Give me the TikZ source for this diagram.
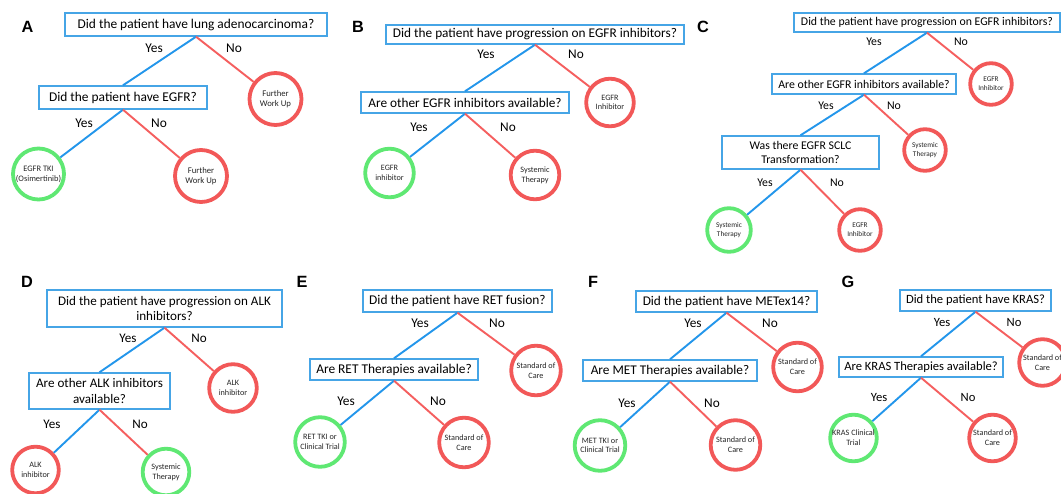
\documentclass[tikz,border=0pt]{standalone}
\usepackage{fontspec}
\setmainfont{Carlito}
\newfontfamily\letterfont{Liberation Sans}
\definecolor{boxblue}{RGB}{70,165,230}
\definecolor{lblue}{RGB}{35,150,235}
\definecolor{lred}{RGB}{245,95,95}
\definecolor{cred}{RGB}{242,88,88}
\definecolor{cgreen}{RGB}{95,232,115}
\begin{document}
\begin{tikzpicture}[x=1pt,y=-1pt,
  qbox/.style={draw=boxblue, line width=1.4pt, fill=white, inner sep=0pt, align=center, text=black},
  leaf/.style={circle, line width=3.8pt, inner sep=0pt, align=center, text=black!85},
  goodleaf/.style={leaf, draw=cgreen},
  badleaf/.style={leaf, draw=cred},
  yesline/.style={draw=lblue, line width=1.9pt},
  noline/.style={draw=lred, line width=1.9pt},
  lab/.style={inner sep=0pt, text=black},
  panel/.style={inner sep=0pt, font=\letterfont\bfseries\fontsize{16.3}{19}\selectfont},
  bigtxt/.style={font=\fontsize{13.3}{15.5}\selectfont},
  smalltxt/.style={font=\fontsize{8.2}{9.7}\selectfont},
  smallc/.style={font=\fontsize{7.3}{8.7}\selectfont}
]
\useasboundingbox (0,0) rectangle (1061,493);
\fill[white] (0,0) rectangle (1061,493);

% ---------- Panel letters
\node[panel] (LA) at (27.5,26.5) {A};
\node[panel] (LB) at (358,27) {B};
\node[panel] (LC) at (703,27) {C};
\node[panel] (LD) at (27,282) {D};
\node[panel] (LE) at (302,282) {E};
\node[panel] (LF) at (593,282) {F};
\node[panel] (LG) at (848,282) {G};

% ---------- Panel A
\begin{scope}[every node/.append style={font=\fontsize{13.4}{15.6}\selectfont}]
\node[qbox, minimum width=262pt, minimum height=23pt] (a1) at (196,24.5) {Did the patient have lung adenocarcinoma?};
\node[qbox, minimum width=168pt, minimum height=23pt] (a2) at (123,97.5) {Did the patient have EGFR?};
\node[lab] (ay1) at (154,48) {Yes};
\node[lab] (an1) at (234,48) {No};
\node[lab] (ay2) at (84,123) {Yes};
\node[lab] (an2) at (159,123) {No};
\end{scope}
\node[badleaf, font=\fontsize{8.7}{10.3}\selectfont, minimum size=52pt] (a3) at (275.5,99) {Further\\Work Up};
\node[goodleaf, font=\fontsize{8.4}{10}\selectfont, minimum size=51pt] (a4) at (38.5,174) {EGFR TKI\\(Osimertinib)};
\node[badleaf, font=\fontsize{8.7}{10.3}\selectfont, minimum size=52pt] (a5) at (201,176) {Further\\Work Up};
\draw[yesline] (a1.south) -- (a2.north);
\draw[noline] (a1.south) -- (a3);
\draw[yesline] (a2.south) -- (a4);
\draw[noline] (a2.south) -- (a5);

% ---------- Panel B
\begin{scope}[every node/.append style={bigtxt}]
\node[qbox, minimum width=298pt, minimum height=19pt] (b1) at (535,34.5) {Did the patient have progression on EGFR inhibitors?};
\node[qbox, minimum width=208pt, minimum height=21pt] (b2) at (465,102.5) {Are other EGFR inhibitors available?};
\node[lab] (by1) at (486,54) {Yes};
\node[lab] (bn1) at (576,54) {No};
\node[lab] (by2) at (419,127) {Yes};
\node[lab] (bn2) at (508,127) {No};
\end{scope}
\node[badleaf, smalltxt, minimum size=47.6pt] (b3) at (610,102.5) {EGFR\\Inhibitor};
\node[goodleaf, smalltxt, minimum size=48.6pt] (b4) at (389.5,173) {EGFR\\inhibitor};
\node[badleaf, smalltxt, minimum size=48.6pt] (b5) at (535,175) {Systemic\\Therapy};
\draw[yesline] (b1.south) -- (b2.north);
\draw[noline] (b1.south) -- (b3);
\draw[yesline] (b2.south) -- (b4);
\draw[noline] (b2.south) -- (b5);

% ---------- Panel C
\begin{scope}[every node/.append style={font=\fontsize{11.8}{13.4}\selectfont}]
\node[qbox, minimum width=266pt, minimum height=19pt] (c1) at (927,22.5) {Did the patient have progression on EGFR inhibitors?};
\node[qbox, minimum width=184pt, minimum height=20pt] (c2) at (864,84) {Are other EGFR inhibitors available?};
\node[qbox, minimum width=157pt, minimum height=33pt] (c3) at (800.5,152.5) {Was there EGFR SCLC\\Transformation?};
\node[lab] (cy1) at (874,42) {Yes};
\node[lab] (cn1) at (961,42) {No};
\node[lab] (cy2) at (826,106) {Yes};
\node[lab] (cn2) at (894,106) {No};
\node[lab] (cy3) at (765,183) {Yes};
\node[lab] (cn3) at (837,183) {No};
\end{scope}
\node[badleaf, smallc, minimum size=41.6pt] (c4) at (991,84) {EGFR\\Inhibitor};
\node[badleaf, smallc, minimum size=41.6pt] (c5) at (925,150) {Systemic\\Therapy};
\node[goodleaf, smallc, minimum size=43.6pt] (c6) at (729,230) {Systemic\\Therapy};
\node[badleaf, smallc, minimum size=41.6pt] (c7) at (860,230) {EGFR\\Inhibitor};
\draw[yesline] (c1.south) -- (c2.north);
\draw[noline] (c1.south) -- (c4);
\draw[yesline] (c2.south) -- (c3.north);
\draw[noline] (c2.south) -- (c5);
\draw[yesline] (c3.south) -- (c6);
\draw[noline] (c3.south) -- (c7);

% ---------- Panel D
\begin{scope}[every node/.append style={font=\fontsize{13.1}{15.4}\selectfont}]
\node[qbox, minimum width=235pt, minimum height=37pt] (d1) at (164.5,308.5) {Did the patient have progression on ALK\\inhibitors?};
\node[qbox, minimum width=141pt, minimum height=36pt] (d2) at (99.5,391) {Are other ALK inhibitors\\available?};
\node[lab] (dy1) at (128,338) {Yes};
\node[lab] (dn1) at (199,338) {No};
\node[lab] (dy2) at (52,424) {Yes};
\node[lab] (dn2) at (140,424) {No};
\end{scope}
\node[badleaf, smalltxt, minimum size=47.6pt] (d3) at (233,388) {ALK\\inhibitor};
\node[badleaf, smalltxt, minimum size=46.6pt] (d4) at (35.5,470) {ALK\\inhibitor};
\node[goodleaf, smalltxt, minimum size=46.6pt] (d5) at (166,472) {Systemic\\Therapy};
\draw[yesline] (d1.south) -- (d2.north);
\draw[noline] (d1.south) -- (d3);
\draw[yesline] (d2.south) -- (d4);
\draw[noline] (d2.south) -- (d5);

% ---------- Panel E
\begin{scope}[every node/.append style={font=\fontsize{13.4}{15.6}\selectfont}]
\node[qbox, minimum width=189pt, minimum height=22pt] (e1) at (457.5,301) {Did the patient have RET fusion?};
\node[qbox, minimum width=168pt, minimum height=21pt] (e2) at (394,369.5) {Are RET Therapies available?};
\node[lab] (ey1) at (420,323) {Yes};
\node[lab] (en1) at (497,323) {No};
\node[lab] (ey2) at (346,401) {Yes};
\node[lab] (en2) at (438,401) {No};
\end{scope}
\node[badleaf, smalltxt, minimum size=49.6pt] (e3) at (536,370.5) {Standard of\\Care};
\node[goodleaf, smalltxt, minimum size=49.6pt] (e4) at (320,442) {RET TKI or\\Clinical Trial};
\node[badleaf, smalltxt, minimum size=49.6pt] (e5) at (464,442.5) {Standard of\\Care};
\draw[yesline] (e1.south) -- (e2.north);
\draw[noline] (e1.south) -- (e3);
\draw[yesline] (e2.south) -- (e4);
\draw[noline] (e2.south) -- (e5);

% ---------- Panel F
\begin{scope}[every node/.append style={bigtxt}]
\node[qbox, minimum width=181pt, minimum height=21pt] (f1) at (726.5,301.5) {Did the patient have METex14?};
\node[qbox, minimum width=174pt, minimum height=21pt] (f2) at (670,370.5) {Are MET Therapies available?};
\node[lab] (fy1) at (693,323) {Yes};
\node[lab] (fn1) at (770,323) {No};
\node[lab] (fy2) at (627,403) {Yes};
\node[lab] (fn2) at (712,403) {No};
\end{scope}
\node[badleaf, smalltxt, minimum size=48.6pt] (f3) at (797.5,367) {Standard of\\Care};
\node[goodleaf, smalltxt, minimum size=50.6pt] (f4) at (600,445.5) {MET TKI or\\Clinical Trial};
\node[badleaf, smalltxt, minimum size=49.6pt] (f5) at (735.5,445) {Standard of\\Care};
\draw[yesline] (f1.south) -- (f2.north);
\draw[noline] (f1.south) -- (f3);
\draw[yesline] (f2.south) -- (f4);
\draw[noline] (f2.south) -- (f5);

% ---------- Panel G
\begin{scope}[every node/.append style={font=\fontsize{12.6}{14.6}\selectfont}]
\node[qbox, minimum width=151pt, minimum height=21pt] (g1) at (975.5,300.5) {Did the patient have KRAS?};
\node[qbox, minimum width=164pt, minimum height=20pt] (g2) at (921,367) {Are KRAS Therapies available?};
\node[lab] (gy1) at (942,322) {Yes};
\node[lab] (gn1) at (1014,322) {No};
\node[lab] (gy2) at (879,397) {Yes};
\node[lab] (gn2) at (968,397) {No};
\end{scope}
\node[badleaf, smalltxt, minimum size=46.6pt] (g3) at (1042.5,362.5) {Standard of\\Care};
\node[goodleaf, smalltxt, minimum size=46.6pt] (g4) at (853.5,438) {KRAS Clinical\\Trial};
\node[badleaf, smalltxt, minimum size=46.6pt] (g5) at (992.5,438) {Standard of\\Care};
\draw[yesline] (g1.south) -- (g2.north);
\draw[noline] (g1.south) -- (g3);
\draw[yesline] (g2.south) -- (g4);
\draw[noline] (g2.south) -- (g5);
\end{tikzpicture}
\end{document}
